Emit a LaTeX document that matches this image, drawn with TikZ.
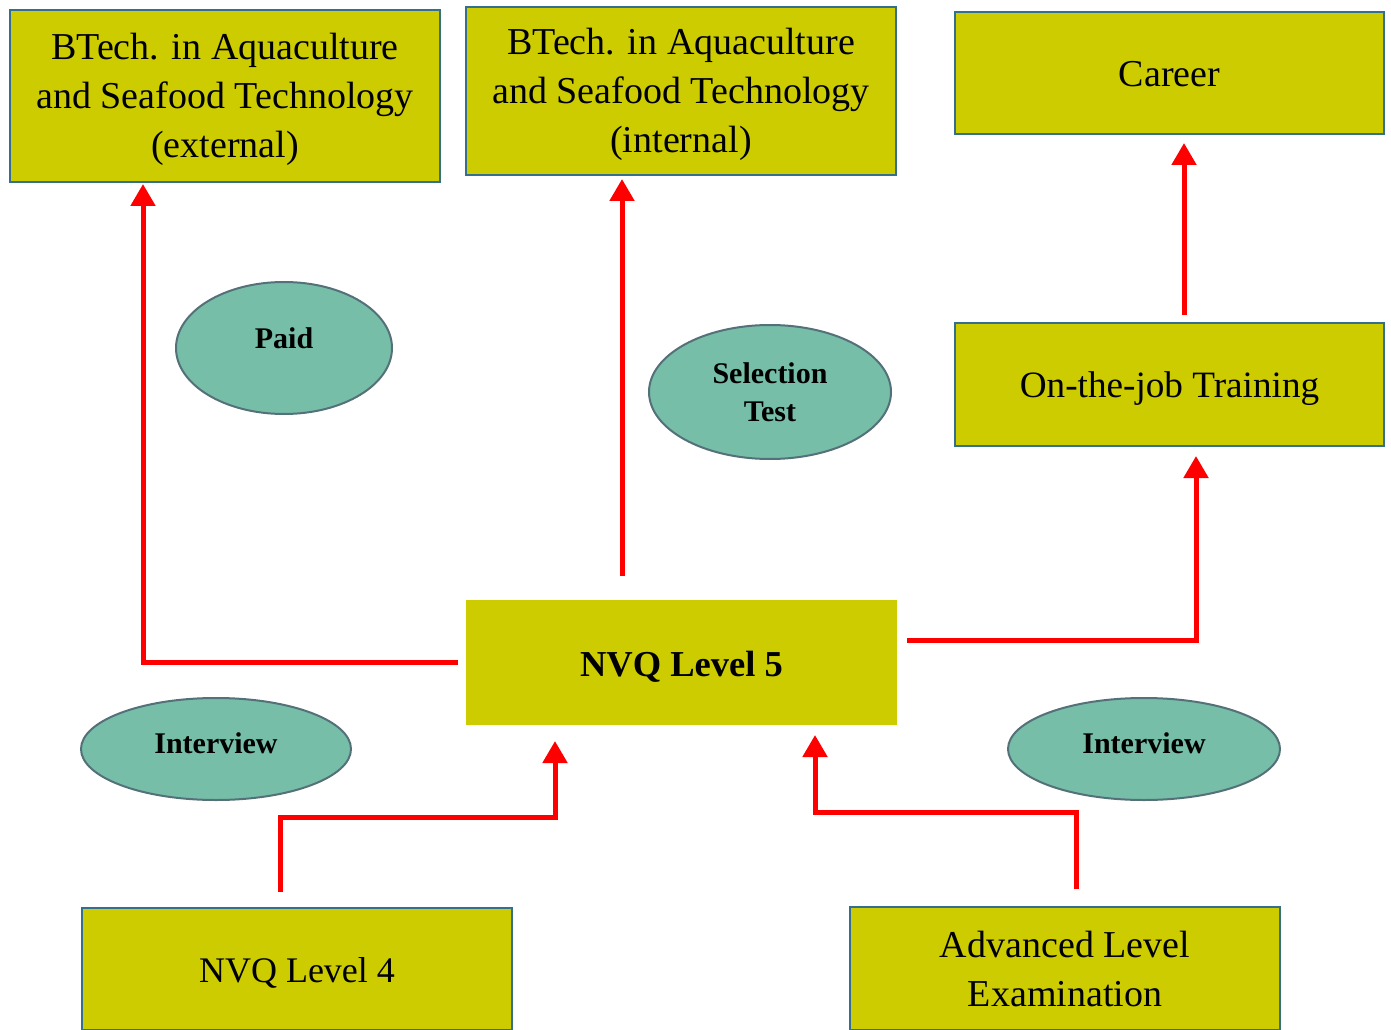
\documentclass[tikz,border=0pt]{standalone}
\usepackage{fontspec}
\setmainfont{Liberation Serif}
\usetikzlibrary{shapes.geometric,arrows.meta,calc}
\definecolor{boxfill}{RGB}{204,204,0}
\definecolor{boxline}{RGB}{52,112,142}
\definecolor{ellfill}{RGB}{118,190,168}
\definecolor{ellline}{RGB}{84,112,120}
\definecolor{arrred}{RGB}{255,0,0}
\newcommand\tallstrut[1]{\rule{0pt}{#1}}
\newcommand\deepstrut[1]{\rule[-#1]{0pt}{#1}}
\tikzset{
  box/.style={rectangle, draw=boxline, line width=1.5pt, fill=boxfill, inner sep=0pt,
    minimum width=322.5pt, align=center, text=black,
    font=\fontsize{28.5pt}{36.75pt}\selectfont},
  nobox/.style={box, draw=none},
  oval/.style={ellipse, draw=ellline, line width=1.5pt, fill=ellfill, inner sep=0pt,
    align=center, text=black, font=\fontsize{22.5pt}{28.5pt}\selectfont\bfseries},
  arr/.style={draw=arrred, line width=3.75pt, -{Triangle[width=18pt,length=16.5pt]}}
}
\begin{document}
\begin{tikzpicture}[x=0.75pt,y=-0.75pt]
\useasboundingbox (0,0) rectangle (1391,1030);
\clip (0,0) rectangle (1391,1030);
% boxes
\node[box, minimum height=129pt] (ext) at (225,96) {\tallstrut{25.5pt}BTech. in Aquaculture\\and Seafood Technology\\(external)};
\node[box, minimum height=126pt] (int) at (681,91) {\tallstrut{25.5pt}BTech. in Aquaculture\\and Seafood Technology\\(internal)};
\node[box, minimum width=321.75pt, minimum height=91.5pt] (career) at (1169.5,73) {\tallstrut{20.5pt}Career};
\node[box, minimum width=321.75pt, minimum height=92.25pt, font=\fontsize{27.9pt}{36.75pt}\selectfont] (ojt) at (1169.5,384.5) {\tallstrut{25pt}On-the-job Training};
\node[nobox, minimum width=323.25pt, minimum height=93.75pt, font=\fontsize{27.4pt}{36.75pt}\selectfont\bfseries] (nvq5) at (681.5,662.5) {\tallstrut{25.5pt}NVQ Level 5};
\node[box, minimum height=91.5pt, font=\fontsize{27pt}{36.75pt}\selectfont] (nvq4) at (297,969) {\tallstrut{24pt}NVQ Level 4};
\node[box, minimum height=92.25pt] (al) at (1065,968.5) {Advanced Level\\Examination};
% ellipses
\node[oval, minimum width=162pt, minimum height=99pt] (paid) at (284,348) {\deepstrut{15pt}Paid};
\node[oval, minimum width=181.5pt, minimum height=100.5pt] (sel) at (770,392) {Selection\\Test};
\node[oval, minimum width=202.5pt, minimum height=76.5pt] (intl) at (216,749) {\deepstrut{9pt}Interview};
\node[oval, minimum width=204pt, minimum height=76.5pt] (intr) at (1144,749) {\deepstrut{9pt}Interview};
% bend coordinates
\coordinate (c1) at (143,661);
\coordinate (c2) at (622,0);
\coordinate (c3) at (1196,640);
\coordinate (c4) at (1184,0);
\coordinate (c5) at (280,817);
\coordinate (c6) at (555,817);
\coordinate (c7) at (1076,812);
\coordinate (c8) at (815,812);
% connectors
\draw[arr, shorten <=5.25pt, shorten >=0.75pt] (nvq5.west) -- (nvq5.west -| c1) -- (ext.south -| c1);
\draw[arr, shorten <=17.25pt, shorten >=2.25pt] (nvq5.north -| c2) -- (int.south -| c2);
\draw[arr, shorten <=6.75pt, shorten >=6.75pt] (nvq5.east |- c3) -- (c3) -- (ojt.south -| c3);
\draw[arr, shorten <=5.25pt, shorten >=6pt] (ojt.north -| c4) -- (career.south -| c4);
\draw[arr, shorten <=11.25pt, shorten >=11.25pt] (nvq4.north -| c5) -- (c5) -- (c6) -- (nvq5.south -| c6);
\draw[arr, shorten <=12.75pt, shorten >=6.75pt] (al.north -| c7) -- (c7) -- (c8) -- (nvq5.south -| c8);
\end{tikzpicture}
\end{document}
